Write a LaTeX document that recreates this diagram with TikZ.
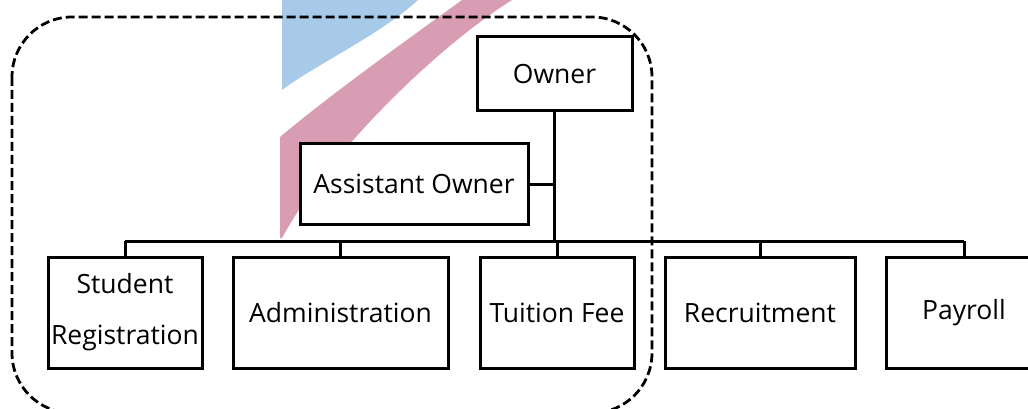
\documentclass[tikz,border=0pt]{standalone}
\usepackage{fontspec}
\setmainfont{Open Sans}
\usepackage{tikz}
\usetikzlibrary{positioning}
\definecolor{stripeblue}{RGB}{166,202,232}
\definecolor{stripepink}{RGB}{216,157,178}
\tikzset{
  orgnode/.style = {align=center, inner sep=0pt, text centered, font=\fontsize{26.5}{51}\selectfont},
  obox/.style = {orgnode, rectangle, draw=black, fill=white, line width=3pt},
  link/.style = {draw=black, line width=3pt},
  groupline/.style = {draw=black, line width=2.8pt, dash pattern=on 9pt off 4pt, rounded corners=60pt},
}
\begin{document}
\begin{tikzpicture}[x=1pt, y=-1pt]
\useasboundingbox (0,0) rectangle (1028,409);
% stripes in the back
\fill[stripeblue] (282,0) -- (282,90) .. controls (315,65) and (380,35) .. (418,0) -- cycle;
\fill[stripepink] (280,137) .. controls (330,95) and (400,45) .. (462,0) -- (512,0)
  .. controls (440,45) and (330,150) .. (282,238) -- (280,238) -- cycle;
% boxes
\node [obox, minimum width=155pt, minimum height=74pt] (own) at (554.5,74) {Owner};
\node [obox, minimum width=228pt, minimum height=80pt] (asst) at (414,184) {Assistant Owner};
\node [obox, minimum width=154pt, minimum height=111pt] (sreg) at (125,312.5) {Student\\Registration};
\node [obox, minimum width=215pt, minimum height=111pt] (adm) at (340.5,312.5) {Administration};
\node [obox, minimum width=154pt, minimum height=111pt] (tfee) at (557,312.5) {Tuition Fee};
\node [obox, minimum width=190pt, minimum height=111pt] (rec) at (760,312.5) {Recruitment};
\node [obox, minimum width=156pt, minimum height=111pt] (pay) at (964,312.5) {Payroll};
\coordinate (bus) at (0,241);
% connectors
\draw [link] (own.south) -- (own.south |- bus);
\draw [link] (asst.east) -- (asst.east -| own.south);
\draw [link] (sreg.north |- bus) -- (pay.north |- bus);
\foreach \n in {sreg,adm,tfee,rec,pay}
  \draw [link] (\n.north) -- (\n.north |- bus);
% dashed group
\draw [groupline] (12,17) rectangle (652,413);
\end{tikzpicture}
\end{document}
